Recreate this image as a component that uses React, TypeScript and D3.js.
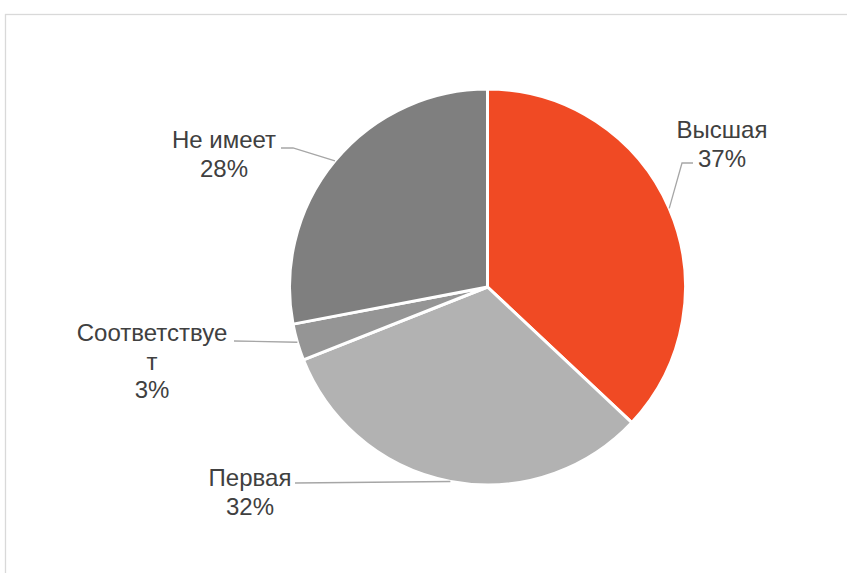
import React from "react";
import * as d3 from "d3";

const categories = ["Высшая", "Первая", "Соответствует", "Не имеет"];
const values = [37, 32, 3, 28];
const percentLabels = ["37%", "32%", "3%", "28%"];
const labelLines = [["Высшая"], ["Первая"], ["Соответствуе", "т"], ["Не имеет"]];
const colors = ["#F04A24", "#B2B2B2", "#959595", "#7F7F7F"];

// label layout (text centre x, first baseline y, leader path points after arc point)
const labelLayout = [
  { x: 722, y: 138, leader: [[682, 163], [693, 163]] },
  { x: 250, y: 486, leader: [[295, 483]] },
  { x: 152, y: 341, leader: [[234, 341]] },
  { x: 224, y: 148, leader: [[293, 148], [281, 148]] },
];

const W = 847;
const H = 573;
const cx = 487.5;
const cy = 287;
const R = 198;
const LINE = 28.5;

export default function App() {
  const pie = d3.pie<number>().sort(null).value((d) => d)(values);
  const arc = d3.arc<d3.PieArcDatum<number>>().innerRadius(0).outerRadius(R);
  const edgeArc = d3.arc<d3.PieArcDatum<number>>().innerRadius(R).outerRadius(R);

  return (
    <svg
      width={W}
      height={H}
      style={{ position: "fixed", left: 0, top: 0, background: "#fff" }}
      fontFamily="'Liberation Sans', Arial, sans-serif"
    >
      <rect x={5.5} y={14.5} width={W + 20} height={H + 20} fill="#fff" stroke="#d9d9d9" strokeWidth={1.3} />
      <g transform={`translate(${cx},${cy})`}>
        {pie.map((p, i) => (
          <path key={categories[i]} d={arc(p) || ""} fill={colors[i]} stroke="#fff" strokeWidth={3} strokeLinejoin="round" />
        ))}
      </g>
      {pie.map((p, i) => {
        const mid = (p.startAngle + p.endAngle) / 2;
        const ax = cx + R * Math.sin(mid);
        const ay = cy - R * Math.cos(mid);
        const pts = [[ax, ay], ...labelLayout[i].leader];
        const line = d3.line()(pts as [number, number][]) || "";
        return <path key={"l" + i} d={line} fill="none" stroke="#A6A6A6" strokeWidth={1.3} />;
      })}
      {labelLines.map((lines, i) => {
        const lay = labelLayout[i];
        const all = [...lines, percentLabels[i]];
        return (
          <text key={"t" + i} x={lay.x} y={lay.y} textAnchor="middle" fontSize={24} fill="#404040">
            {all.map((s, j) => (
              <tspan key={j} x={lay.x} dy={j === 0 ? 0 : LINE}>
                {s}
              </tspan>
            ))}
          </text>
        );
      })}
    </svg>
  );
}
